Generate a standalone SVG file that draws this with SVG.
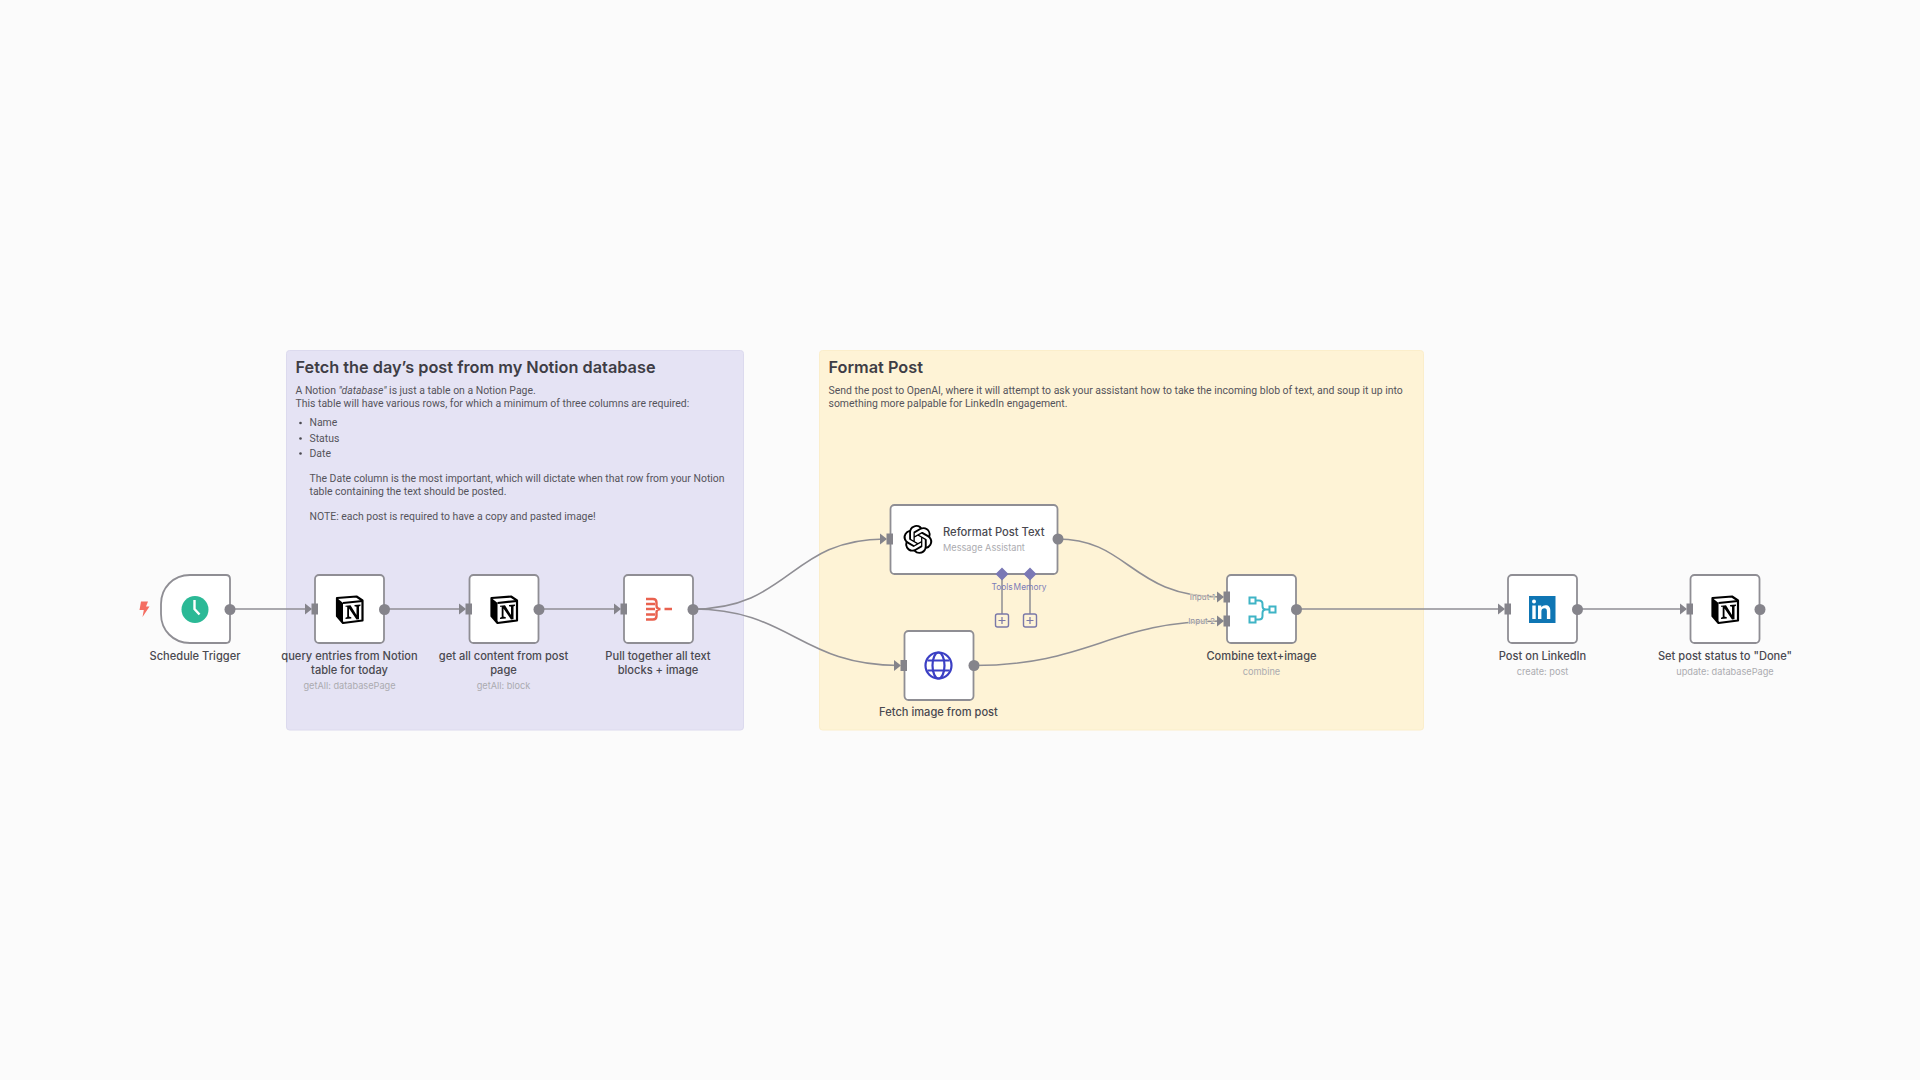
<svg xmlns="http://www.w3.org/2000/svg" width="1920" height="1080" viewBox="0 0 1920 1080">
<style>
text{font-family:Inter,"Noto Sans","Liberation Sans",sans-serif}
.box{fill:#fff;stroke:#8f8e94;stroke-width:1.800}
.lbl{font-size:11.100px;font-weight:500;fill:#4a4950;text-anchor:middle}
.sub{font-size:9.200px;fill:#ababb0;text-anchor:middle}
.h{font-size:16.300px;font-weight:600;fill:#3e3d45}
.b{font-size:10.450px;font-family:Roboto,Inter,sans-serif;fill:#55545b}
.conn{fill:none;stroke:#8f8e94;stroke-width:1.600}
.out{fill:#85848b}
.cl{font-size:8.200px;fill:#8f8ea0;text-anchor:end;paint-order:stroke;stroke:#fef3d6;stroke-width:1px}
.tl{font-size:8.400px;fill:#7c7cb8;text-anchor:middle}
</style>
<defs>
<g id="notion">
<path d="M-12.500-11.500L7-13L13-9V11L-6.500 13.500L-12.500 6.500Z" fill="#fff" stroke="#000" stroke-width="2.200" stroke-linejoin="round"/>
<path d="M-12.500-11.500L-6.500-6.500V13.500L-12.500 6.500Z" fill="#000"/>
<path d="M-6.500-6.500L13-8.500" stroke="#000" stroke-width="2.200" fill="none"/>
<path d="M-4-3.800L1-4.200L7 5.500V-2.700L5-3.200V-4.500L11-5V-3.700L9.500-3V9.800L7 10L-.500-1V7L1.800 7.700V9L-4 9.500V8.200L-2.300 7.500V-2.800L-4-2.700Z" fill="#000"/>
</g>
<g id="inport"><path d="M-10-5.500L-3 0L-10 5.500Z" fill="#85848b"/><rect x="-3.500" y="-5.500" width="6.500" height="11" fill="#85848b"/></g>
</defs>
<rect width="1920" height="1080" fill="#fbfbfb"/>
<g id="sticky-fetch">
<rect x="286.500" y="350.500" width="457" height="379.500" rx="3" fill="#e5e3f4" stroke="#dcdaee"/>
<text class="h" x="295.500" y="373">Fetch the day’s post from my Notion database</text>
<text class="b" x="295.500" y="394">A Notion <tspan font-style="italic">"database"</tspan> is just a table on a Notion Page.</text>
<text class="b" x="295.500" y="406.500">This table will have various rows, for which a minimum of three columns are required:</text>
<circle cx="300.500" cy="423" r="1.300" fill="#4a4950"/><circle cx="300.500" cy="438.500" r="1.300" fill="#4a4950"/><circle cx="300.500" cy="453.500" r="1.300" fill="#4a4950"/>
<text class="b" x="309.500" y="426">Name</text>
<text class="b" x="309.500" y="441.500">Status</text>
<text class="b" x="309.500" y="457">Date</text>
<text class="b" x="309.500" y="482">The Date column is the most important, which will dictate when that row from your Notion</text>
<text class="b" x="309.500" y="495">table containing the text should be posted.</text>
<text class="b" x="309.500" y="519.500">NOTE: each post is required to have a copy and pasted image!</text>
</g>
<g id="sticky-format">
<rect x="819.500" y="350.500" width="604" height="379.500" rx="3" fill="#fef3d6" stroke="#fbeecb"/>
<text class="h" x="828.500" y="373">Format Post</text>
<text class="b" x="828.500" y="394">Send the post to OpenAI, where it will attempt to ask your assistant how to take the incoming blob of text, and soup it up into</text>
<text class="b" x="828.500" y="407">something more palpable for LinkedIn engagement.</text>
</g>
<g id="connectors">
<path class="conn" d="M230 609H310"/>
<path class="conn" d="M384 609H464"/>
<path class="conn" d="M538 609H618"/>
<path class="conn" d="M693 609C790 609 790 539 885 539"/>
<path class="conn" d="M693 609C790 609 800 665.500 899 665.500"/>
<path class="conn" d="M1057 539C1130 539 1130 597 1222 597"/>
<path class="conn" d="M973 665.500C1090 665.500 1110 621 1222 621"/>
<path class="conn" d="M1296 609H1503"/>
<path class="conn" d="M1577 609H1685"/>
<path d="M1002 574V614M1030 574V614" fill="none" stroke="#8f8e94" stroke-width="1.500"/>
</g>
<g id="node-schedule">
<path class="box" d="M190 575H226Q230 575 230 579V639Q230 643 226 643H190C173 643 161 630 161 614V604C161 588 173 575 190 575Z"/>
<path d="M141 601.500H148L146 606.500H149.500L142.500 617L143.800 610H139.500Z" fill="#f46e62"/>
<circle cx="195" cy="609.500" r="13.500" fill="#2bb996"/>
<path d="M194.500 600V609L199.500 614.500" fill="none" stroke="#fff" stroke-width="2.400"/>
<circle class="out" cx="230" cy="609.500" r="5.500"/>
<text class="lbl" x="195" y="660">Schedule Trigger</text>
</g>
<g id="node-query">
<rect class="box" x="315" y="575" width="69" height="68" rx="4"/>
<use href="#inport" x="315" y="609"/>
<use href="#notion" x="349.500" y="609.500"/>
<circle class="out" cx="384.500" cy="609.500" r="5.500"/>
<text class="lbl" x="349.500" y="660">query entries from Notion</text>
<text class="lbl" x="349.500" y="674">table for today</text>
<text class="sub" x="349.500" y="689">getAll: databasePage</text>
</g>
<g id="node-content">
<rect class="box" x="469.500" y="575" width="69" height="68" rx="4"/>
<use href="#inport" x="469" y="609"/>
<use href="#notion" x="504" y="609.500"/>
<circle class="out" cx="539" cy="609.500" r="5.500"/>
<text class="lbl" x="503.500" y="660">get all content from post</text>
<text class="lbl" x="503.500" y="674">page</text>
<text class="sub" x="503.500" y="689">getAll: block</text>
</g>
<g id="node-merge">
<rect class="box" x="624" y="575" width="69" height="68" rx="4"/>
<use href="#inport" x="624" y="609"/>
<path d="M646 599H653Q656.500 599 656.500 602.500V605.500Q656.500 609 660.500 609Q656.500 609 656.500 612.500V616Q656.500 619.500 653 619.500H646M646 604H655M646 609H655M646 614.500H655M664.500 609H672" fill="none" stroke="#e9624f" stroke-width="2.400"/>
<circle class="out" cx="693" cy="609.500" r="5.500"/>
<text class="lbl" x="658" y="660">Pull together all text</text>
<text class="lbl" x="658" y="674">blocks + image</text>
</g>
<g id="node-reformat">
<rect class="box" x="890.500" y="505" width="167" height="69" rx="4"/>
<use href="#inport" x="890" y="539"/>
<path transform="translate(903.500 525) scale(1.200)" fill="#000" d="M22.2819 9.8211a5.9847 5.9847 0 0 0-.5157-4.9108 6.0462 6.0462 0 0 0-6.5098-2.9A6.0651 6.0651 0 0 0 4.9807 4.1818a5.9847 5.9847 0 0 0-3.9977 2.9 6.0462 6.0462 0 0 0 .7427 7.0966 5.98 5.98 0 0 0 .511 4.9107 6.051 6.051 0 0 0 6.5146 2.9001A5.9847 5.9847 0 0 0 13.2599 24a6.0557 6.0557 0 0 0 5.7718-4.2058 5.9894 5.9894 0 0 0 3.9977-2.9001 6.0557 6.0557 0 0 0-.7475-7.0729zm-9.022 12.6081a4.4755 4.4755 0 0 1-2.8764-1.0408l.1419-.0804 4.7783-2.7582a.7948.7948 0 0 0 .3927-.6813v-6.7369l2.02 1.1686a.071.071 0 0 1 .038.052v5.5826a4.504 4.504 0 0 1-4.4945 4.4944zm-9.6607-4.1254a4.4708 4.4708 0 0 1-.5346-3.0137l.142.0852 4.783 2.7582a.7712.7712 0 0 0 .7806 0l5.8428-3.3685v2.3324a.0804.0804 0 0 1-.0332.0615L9.74 19.9502a4.4992 4.4992 0 0 1-6.1408-1.6464zM2.3408 7.8956a4.485 4.485 0 0 1 2.3655-1.9728V11.6a.7664.7664 0 0 0 .3879.6765l5.8144 3.3543-2.0201 1.1685a.0757.0757 0 0 1-.071 0l-4.8303-2.7865A4.504 4.504 0 0 1 2.3408 7.872zm16.5963 3.8558L13.1038 8.364 15.1192 7.2a.0757.0757 0 0 1 .071 0l4.8303 2.7913a4.4944 4.4944 0 0 1-.6765 8.1042v-5.6772a.79.79 0 0 0-.407-.667zm2.0107-3.0231l-.142-.0852-4.7735-2.7818a.7759.7759 0 0 0-.7854 0L9.409 9.2297V6.8974a.0662.0662 0 0 1 .0284-.0615l4.8303-2.7866a4.4992 4.4992 0 0 1 6.6802 4.66zM8.3065 12.863l-2.02-1.1638a.0804.0804 0 0 1-.038-.0567V6.0742a4.4992 4.4992 0 0 1 7.3757-3.4537l-.142.0805L8.704 5.459a.7948.7948 0 0 0-.3927.6813zm1.0976-2.3654l2.602-1.4998 2.6069 1.4998v2.9994l-2.5974 1.4997-2.6067-1.4997Z"/>
<text x="943" y="536" font-size="11.200" font-weight="500" fill="#4a4950">Reformat Post Text</text>
<text x="943" y="551" font-size="9.200" fill="#ababb0">Message Assistant</text>
<circle class="out" cx="1058" cy="539" r="5.500"/>
<path d="M1002 567.500L1008.500 574L1002 580.500L995.500 574ZM1030 567.500L1036.500 574L1030 580.500L1023.500 574Z" fill="#7a78b5"/>
<text class="tl" x="1002" y="590">Tools</text>
<text class="tl" x="1030" y="590">Memory</text>
<g fill="#fef3d6" stroke="#7a78a8" stroke-width="1.400"><rect x="995.500" y="614" width="13" height="13" rx="2"/><rect x="1023.500" y="614" width="13" height="13" rx="2"/></g>
<path d="M998.500 620.500H1005.500M1002 617V624M1026.500 620.500H1033.500M1030 617V624" stroke="#7a78a8" stroke-width="1.200"/>
</g>
<g id="node-fetch">
<rect class="box" x="904.500" y="631" width="69" height="69" rx="4"/>
<use href="#inport" x="904" y="665.500"/>
<g fill="none" stroke="#3b3fc4" stroke-width="2.200">
<circle cx="938.500" cy="665.500" r="13"/>
<ellipse cx="938.500" cy="665.500" rx="6" ry="13"/>
<path d="M927.500 660.500H949.500M927.500 670.500H949.500"/>
</g>
<circle class="out" cx="974" cy="665.500" r="5.500"/>
<text class="lbl" x="938.500" y="716">Fetch image from post</text>
</g>
<g id="node-combine">
<rect class="box" x="1227" y="575" width="69" height="68" rx="4"/>
<use href="#inport" x="1227" y="597"/>
<use href="#inport" x="1227" y="621"/>
<text class="cl" x="1215" y="600">Input 1</text>
<text class="cl" x="1215" y="624">Input 2</text>
<g fill="none" stroke="#3fb4c6" stroke-width="2">
<rect x="1249.500" y="597.500" width="6" height="6"/><rect x="1249.500" y="616.500" width="6" height="6"/><rect x="1269.500" y="606.500" width="6" height="6"/>
<path d="M1256 600.500H1259Q1262.500 600.500 1262.500 604V606Q1262.500 609.500 1266 609.500H1269M1256 619.500H1259Q1262.500 619.500 1262.500 616V613Q1262.500 609.500 1266 609.500"/>
</g>
<circle class="out" cx="1296.500" cy="609.500" r="5.500"/>
<text class="lbl" x="1261.500" y="660">Combine text+image</text>
<text class="sub" x="1261.500" y="675">combine</text>
</g>
<g id="node-linkedin">
<rect class="box" x="1508" y="575" width="69" height="68" rx="4"/>
<use href="#inport" x="1508" y="609"/>
<rect x="1529" y="596" width="26.500" height="27" fill="#0f76b4"/>
<circle cx="1534" cy="601.500" r="2" fill="#fff"/>
<path d="M1532.300 605.500H1535.700V619H1532.300ZM1538 605.500H1541.300V607.300C1542.300 605.900 1543.700 605.200 1545.500 605.200C1548.900 605.200 1550.300 607.200 1550.300 610.500V619H1546.900V611.300C1546.900 609.300 1546.200 608.300 1544.500 608.300C1542.600 608.300 1541.400 609.500 1541.400 611.500V619H1538Z" fill="#fff"/>
<circle class="out" cx="1577.500" cy="609.500" r="5.500"/>
<text class="lbl" x="1542.500" y="660">Post on LinkedIn</text>
<text class="sub" x="1542.500" y="675">create: post</text>
</g>
<g id="node-done">
<rect class="box" x="1690.500" y="575" width="69" height="68" rx="4"/>
<use href="#inport" x="1690" y="609"/>
<use href="#notion" x="1725" y="609.500"/>
<circle class="out" cx="1760" cy="609.500" r="5.500"/>
<text class="lbl" x="1725" y="660">Set post status to "Done"</text>
<text class="sub" x="1725" y="675">update: databasePage</text>
</g>
</svg>
